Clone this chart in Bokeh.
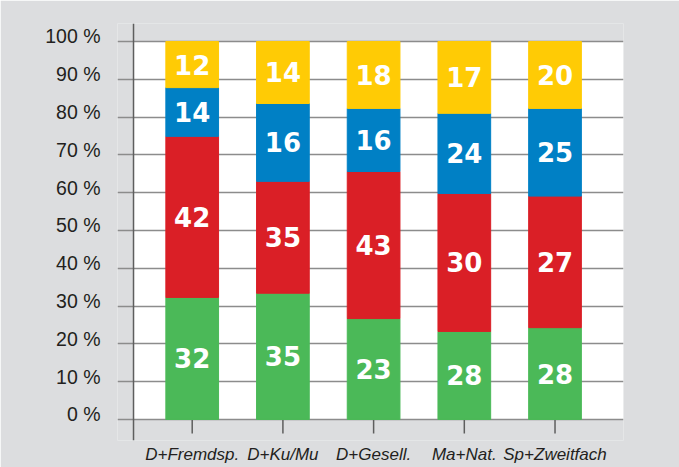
from bokeh.plotting import figure
from bokeh.models import ColumnDataSource, FixedTicker, Span, BoxAnnotation, Range1d
from bokeh.core.properties import value
from bokeh.embed import file_html
from bokeh.resources import INLINE

# ---- data ----
categories = ["D+Fremdsp.", "D+Ku/Mu", "D+Gesell.", "Ma+Nat.", "Sp+Zweitfach"]
# drawn segment heights (percent), bottom to top
green_h = [32.3, 33.4, 26.7, 23.3, 24.3]
red_h = [42.6, 29.6, 38.9, 36.5, 34.8]
blue_h = [12.9, 20.6, 16.7, 21.2, 23.2]
yellow_h = [12.2, 16.4, 17.7, 19.0, 17.7]
# printed labels
green_lbl = [32, 35, 23, 28, 28]
red_lbl = [42, 35, 43, 30, 27]
blue_lbl = [14, 16, 16, 24, 25]
yellow_lbl = [12, 14, 18, 17, 20]
pct_ticks = [0, 10, 20, 30, 40, 50, 60, 70, 80, 90, 100]
pct_labels = [f"{t} %" for t in pct_ticks]

# ---- style ----
GREY = "#DCDDDF"
GRID = "#8c8c8c"
AXIS = "#5e5e5e"
TXT = "#231F20"
COLORS = ["#4BB958", "#DA1F26", "#0080C5", "#FFCB05"]
FONT = "Liberation Sans"
PX_PER_PCT = 3.78
label_shift = 5 / PX_PER_PCT
tick_len = 14 / PX_PER_PCT

x_lo, x_hi = -0.8236, 4.755
axis_x = -0.647
y_lo, y_hi = -5.556, 104.76

n = len(categories)
xs = list(range(n))

p = figure(width=679, height=467, output_backend="svg", toolbar_location=None,
           x_range=Range1d(x_lo, x_hi), y_range=Range1d(y_lo, y_hi),
           min_border_left=117, min_border_right=56,
           min_border_top=23, min_border_bottom=27)
p.background_fill_color = GREY
p.border_fill_color = GREY
p.outline_line_color = None

p.add_layout(BoxAnnotation(left=axis_x, bottom=0, top=100, fill_color="white",
                           fill_alpha=1, line_color=None, level="image"))

p.xgrid.visible = False
p.ygrid.ticker = FixedTicker(ticks=pct_ticks)
p.ygrid.grid_line_color = GRID
p.ygrid.grid_line_width = 1.5

# y axis: labels only (slightly raised as in the original)
ytick_pos = [t + label_shift for t in pct_ticks]
p.yaxis.ticker = FixedTicker(ticks=ytick_pos)
p.yaxis.major_label_overrides = {pos: lab for pos, lab in zip(ytick_pos, pct_labels)}
p.yaxis.axis_line_color = None
p.yaxis.major_tick_line_color = None
p.yaxis.minor_tick_line_color = None
p.yaxis.major_tick_in = 0
p.yaxis.major_tick_out = 0
p.yaxis.major_label_standoff = 17
p.yaxis.major_label_text_font = FONT
p.yaxis.major_label_text_font_size = "19.5px"
p.yaxis.major_label_text_color = TXT

p.add_layout(Span(location=axis_x, dimension="height", line_color=AXIS, line_width=1.5))

# x axis: labels only
p.xaxis.ticker = FixedTicker(ticks=xs)
p.xaxis.major_label_overrides = {i: c for i, c in zip(xs, categories)}
p.xaxis.axis_line_color = None
p.xaxis.major_tick_line_color = None
p.xaxis.minor_tick_line_color = None
p.xaxis.major_tick_in = 0
p.xaxis.major_tick_out = 0
p.xaxis.major_label_standoff = 4
p.xaxis.major_label_text_font = FONT
p.xaxis.major_label_text_font_style = "italic"
p.xaxis.major_label_text_font_size = "17px"
p.xaxis.major_label_text_color = TXT

p.segment(x0=xs, y0=[0] * n, x1=xs, y1=[-tick_len] * n, line_color=AXIS, line_width=1.5)

src = ColumnDataSource(dict(x=xs, g=green_h, r=red_h, b=blue_h, y=yellow_h))
p.vbar_stack(["g", "r", "b", "y"], x="x", width=0.581, color=COLORS, source=src)

# labels centered in segments
lx, ly, lt = [], [], []
for i in range(n):
    base = 0.0
    for h, lab in zip([green_h[i], red_h[i], blue_h[i], yellow_h[i]],
                      [green_lbl[i], red_lbl[i], blue_lbl[i], yellow_lbl[i]]):
        lx.append(xs[i])
        ly.append(base + h / 2)
        lt.append(str(lab))
        base += h
p.text(x=lx, y=ly, text=lt, text_align="center", text_baseline="middle",
       text_font=value("DejaVu Sans"), text_font_style="bold", text_font_size="26px",
       text_color="white")

open("out.html", "w").write(file_html(p, INLINE))
